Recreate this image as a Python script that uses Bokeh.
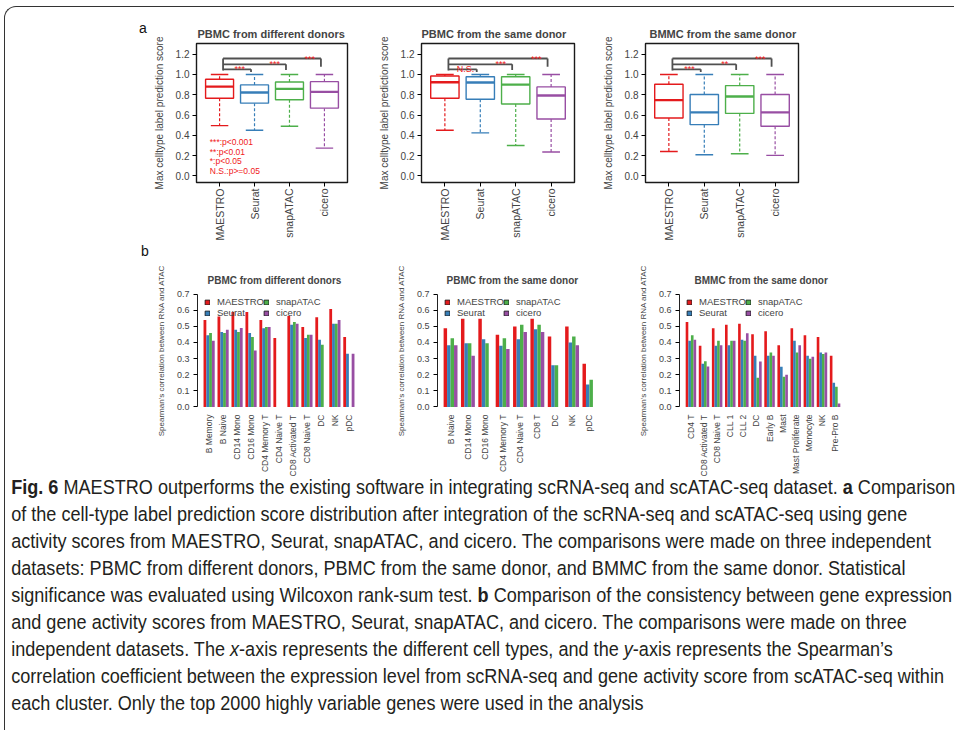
import math
from bokeh.plotting import figure
from bokeh.models import (ColumnDataSource, FixedTicker, Legend, LegendItem,
                          Div, Range1d, NumeralTickFormatter)
from bokeh.layouts import row, column
from bokeh.embed import file_html
from bokeh.resources import INLINE
from bokeh.core.properties import value

NAN = float("nan")
FONT = "Liberation Sans"

METHODS = ["MAESTRO", "Seurat", "snapATAC", "cicero"]
COLORS = ["#E41A1C", "#377EB8", "#4DAF4A", "#984EA3"]

# ---------------- panel a : box plots (five-number summaries) ----------------
BOX_TITLES = ["PBMC from different donors", "PBMC from the same donor", "BMMC from the same donor"]
BOX_YTICKS = [0.0, 0.2, 0.4, 0.6, 0.8, 1.0, 1.2]

pbmc_diff_low = [0.496, 0.450, 0.489, 0.274]
pbmc_diff_q1 = [0.766, 0.717, 0.750, 0.668]
pbmc_diff_med = [0.880, 0.822, 0.858, 0.828]
pbmc_diff_q3 = [0.952, 0.897, 0.926, 0.929]
pbmc_diff_high = [1.0, 1.0, 1.0, 1.0]

pbmc_same_low = [0.450, 0.424, 0.300, 0.235]
pbmc_same_q1 = [0.766, 0.756, 0.708, 0.561]
pbmc_same_med = [0.923, 0.920, 0.900, 0.792]
pbmc_same_q3 = [0.985, 0.978, 0.978, 0.877]
pbmc_same_high = [1.0, 1.0, 1.0, 1.0]

bmmc_low = [0.241, 0.209, 0.218, 0.202]
bmmc_q1 = [0.571, 0.505, 0.616, 0.489]
bmmc_med = [0.747, 0.626, 0.783, 0.626]
bmmc_q3 = [0.903, 0.802, 0.890, 0.802]
bmmc_high = [1.0, 1.0, 1.0, 1.0]

# significance of MAESTRO vs Seurat / snapATAC / cicero
sig_pbmc_diff = ["***", "***", "***"]
sig_pbmc_same = ["N.S.", "***", "***"]
sig_bmmc = ["***", "**", "***"]
PVAL_LEGEND = ["***:p<0.001", "**:p<0.01", "*:p<0.05", "N.S.:p>=0.05"]

# ---------------- panel b : bar charts ----------------
BAR_TITLES = ["PBMC from different donors", "PBMC from the same donor", "BMMC from the same donor"]
BAR_YTICKS = [0.0, 0.1, 0.2, 0.3, 0.4, 0.5, 0.6, 0.7]

pbmc_diff_cells = ["B Memory", "B Naive", "CD14 Mono", "CD16 Mono", "CD4 Memory T", "CD4 Naive T",
                   "CD8 Activated T", "CD8 Naive T", "DC", "NK", "pDC"]
pbmc_diff_maestro = [0.539, 0.560, 0.589, 0.589, 0.539, 0.428, 0.564, 0.496, 0.556, 0.607, 0.434]
pbmc_diff_seurat = [0.445, 0.465, 0.478, 0.459, 0.488, NAN, 0.509, 0.428, 0.416, 0.515, 0.330]
pbmc_diff_snap = [0.459, 0.459, 0.465, 0.434, 0.496, NAN, 0.527, 0.447, 0.385, 0.515, NAN]
pbmc_diff_cicero = [0.410, 0.478, 0.490, 0.350, 0.496, NAN, 0.515, 0.447, NAN, 0.539, 0.330]

pbmc_same_cells = ["B Naive", "CD14 Mono", "CD16 Mono", "CD4 Memory T", "CD4 Naive T", "CD8 T",
                   "DC", "NK", "pDC"]
pbmc_same_maestro = [0.488, 0.546, 0.546, 0.447, 0.498, 0.546, 0.436, 0.498, 0.268]
pbmc_same_seurat = [0.383, 0.395, 0.420, 0.379, 0.420, 0.482, 0.259, 0.400, 0.140]
pbmc_same_snap = [0.426, 0.395, 0.395, 0.426, 0.509, 0.509, 0.259, 0.436, 0.169]
pbmc_same_cicero = [0.383, 0.317, NAN, 0.360, 0.465, 0.465, NAN, 0.383, NAN]

bmmc_cells = ["CD4 T", "CD8 Activated T", "CD8 Naive T", "CLL 1", "CLL 2", "DC", "Early B", "Mast",
              "Mast Proliferate", "Monocyte", "NK", "Pre-Pro B"]
bmmc_maestro = [0.527, 0.379, 0.488, 0.509, 0.515, 0.451, 0.469, 0.383, 0.488, 0.445, 0.434, 0.317]
bmmc_seurat = [0.410, 0.268, 0.379, 0.383, 0.416, 0.317, 0.317, 0.249, 0.410, 0.317, 0.338, 0.150]
bmmc_snap = [0.445, 0.284, 0.410, 0.410, 0.410, 0.181, 0.338, 0.187, 0.338, 0.299, 0.329, 0.126]
bmmc_cicero = [0.416, 0.251, 0.383, 0.410, 0.457, 0.282, 0.317, 0.200, 0.383, 0.311, 0.338, 0.021]

CAPTION_LINES = [
    "<b>Fig. 6</b> MAESTRO outperforms the existing software in integrating scRNA-seq and scATAC-seq dataset. <b>a</b> Comparison",
    "of the cell-type label prediction score distribution after integration of the scRNA-seq and scATAC-seq using gene",
    "activity scores from MAESTRO, Seurat, snapATAC, and cicero. The comparisons were made on three independent",
    "datasets: PBMC from different donors, PBMC from the same donor, and BMMC from the same donor. Statistical",
    "significance was evaluated using Wilcoxon rank-sum test. <b>b</b> Comparison of the consistency between gene expression",
    "and gene activity scores from MAESTRO, Seurat, snapATAC, and cicero. The comparisons were made on three",
    "independent datasets. The <i>x</i>-axis represents the different cell types, and the <i>y</i>-axis represents the Spearman\u2019s",
    "correlation coefficient between the expression level from scRNA-seq and gene activity score from scATAC-seq within",
    "each cluster. Only the top 2000 highly variable genes were used in the analysis",
]


def style_title(p, title, size, offset):
    p.title.text = title
    p.title.text_font = FONT
    p.title.text_font_size = size
    p.title.text_font_style = "bold"
    p.title.align = "left"
    p.title.standoff = 7
    p.title.offset = offset


def make_box(title, low, q1, med, q3, high, sigs, width, left, right, title_offset, pval=False):
    p = figure(width=width, height=236, x_range=Range1d(0.34, 4.66), y_range=Range1d(-0.065, 1.305),
               output_backend="svg", toolbar_location=None,
               min_border_left=left, min_border_right=right, min_border_top=36, min_border_bottom=60)
    p.grid.visible = False
    p.outline_line_color = "#1a1a1a"
    p.outline_line_width = 1.4
    xs = [i + 1 for i in range(len(METHODS))]
    src = ColumnDataSource(dict(
        x=xs, low=low, q1=q1, med=med, q3=q3, high=high, color=COLORS,
        bl=[x - 0.4 for x in xs], br=[x + 0.4 for x in xs],
        sl=[x - 0.25 for x in xs], sr=[x + 0.25 for x in xs]))
    p.segment(x0="x", y0="q3", x1="x", y1="high", source=src, line_color="color",
              line_dash="3 2", line_width=1.2)
    p.segment(x0="x", y0="q1", x1="x", y1="low", source=src, line_color="color",
              line_dash="3 2", line_width=1.2)
    p.segment(x0="sl", y0="high", x1="sr", y1="high", source=src, line_color="color", line_width=1.4)
    p.segment(x0="sl", y0="low", x1="sr", y1="low", source=src, line_color="color", line_width=1.4)
    p.quad(left="bl", right="br", bottom="q1", top="q3", source=src, fill_color="white",
           line_color="color", line_width=1.4)
    p.segment(x0="bl", y0="med", x1="br", y1="med", source=src, line_color="color", line_width=2.4)

    # significance brackets (MAESTRO vs the others)
    targets = xs[1:]
    levels = [1.05, 1.10, 1.157]
    drops = [0.025, 0.055, 0.08]
    start = xs[0] + 0.1
    ends = [t - 0.1 for t in targets]
    bsrc = ColumnDataSource(dict(x0=[start] * 3, x1=ends, y=levels,
                                 yd=[l - d for l, d in zip(levels, drops)],
                                 tx=[t - 0.42 for t in targets], sig=sigs))
    bc = "#505050"
    p.segment(x0="x0", y0="y", x1="x1", y1="y", source=bsrc, line_color=bc, line_width=1.8)
    p.segment(x0="x1", y0="y", x1="x1", y1="yd", source=bsrc, line_color=bc, line_width=1.8)
    p.segment(x0=[start], y0=[max(levels)], x1=[start], y1=[1.04], line_color=bc, line_width=1.8)
    p.text(x="tx", y="y", text="sig", source=bsrc, text_color="#F02020", text_align="center",
           text_baseline="middle", text_font_size="9px", text_font=value(FONT))

    if pval:
        ys = [0.33 - 0.093 * i for i in range(len(PVAL_LEGEND))]
        p.text(x=[0.72] * len(PVAL_LEGEND), y=ys, text=PVAL_LEGEND, text_color="#F02020",
               text_align="left", text_baseline="middle", text_font_size="8.5px",
               text_font=value(FONT))

    style_title(p, title, "11px", title_offset)

    p.yaxis.ticker = FixedTicker(ticks=BOX_YTICKS)
    p.yaxis.formatter = NumeralTickFormatter(format="0.0")
    p.yaxis.axis_label = "Max celltype label prediction score"
    p.yaxis.axis_label_text_font = FONT
    p.yaxis.axis_label_text_font_size = "10px"
    p.yaxis.axis_label_text_font_style = "normal"
    p.yaxis.axis_label_standoff = 8
    p.yaxis.major_label_text_font = FONT
    p.yaxis.major_label_text_font_size = "10px"
    p.yaxis.major_tick_out = 4
    p.yaxis.major_tick_in = 0
    p.yaxis.minor_tick_line_color = None
    p.yaxis.major_label_standoff = 3
    p.yaxis.axis_line_color = None

    p.xaxis.ticker = FixedTicker(ticks=xs)
    p.xaxis.major_label_overrides = {x: m for x, m in zip(xs, METHODS)}
    p.xaxis.major_label_orientation = math.pi / 2
    p.xaxis.major_label_text_font = FONT
    p.xaxis.major_label_text_font_size = "10.5px"
    p.xaxis.major_tick_out = 4
    p.xaxis.major_tick_in = 0
    p.xaxis.minor_tick_line_color = None
    p.xaxis.major_label_standoff = 2
    p.xaxis.axis_line_color = None
    return p


def make_bar(title, cells, series, width, left, right, title_offset):
    n = len(cells)
    xmax = 5 * n
    span = xmax - 1
    p = figure(width=width, height=236, x_range=Range1d(1 - 0.04 * span, xmax + 0.04 * span),
               y_range=Range1d(-0.028, 0.728), output_backend="svg", toolbar_location=None,
               min_border_left=left, min_border_right=right, min_border_top=46, min_border_bottom=68)
    p.grid.visible = False
    p.outline_line_color = None
    for j, vals in enumerate(series):
        xs = [1 + 5 * g + j + 0.5 for g in range(n)]
        p.vbar(x=xs, top=vals, bottom=0, width=1, fill_color=COLORS[j], line_color=None)

    # legend keys (outlined squares, no data drawn)
    proxies = [p.vbar(x=[NAN], top=[NAN], bottom=[0], width=1, fill_color=c, line_color="#111111",
                      line_width=0.8) for c in COLORS]
    for cols, vx in (((0, 1), 7), ((2, 3), 66)):
        leg = Legend(items=[LegendItem(label=METHODS[k], renderers=[proxies[k]], index=0) for k in cols],
                     location=(vx, 93), orientation="vertical", padding=0, margin=0, spacing=-1,
                     glyph_width=6, glyph_height=6, label_standoff=7, label_height=9,
                     label_text_font=FONT, label_text_font_size="9.5px",
                     background_fill_alpha=0, border_line_color=None)
        p.add_layout(leg)

    style_title(p, title, "10px", title_offset)

    p.yaxis.ticker = FixedTicker(ticks=BAR_YTICKS)
    p.yaxis.formatter = NumeralTickFormatter(format="0.0")
    p.yaxis.bounds = (BAR_YTICKS[0], BAR_YTICKS[-1])
    p.yaxis.axis_label = "Spearman's correlation between RNA and ATAC"
    p.yaxis.axis_label_text_font = FONT
    p.yaxis.axis_label_text_font_size = "8px"
    p.yaxis.axis_label_text_font_style = "normal"
    p.yaxis.axis_label_standoff = 8
    p.yaxis.major_label_text_font = FONT
    p.yaxis.major_label_text_font_size = "9px"
    p.yaxis.major_tick_out = 4
    p.yaxis.major_tick_in = 0
    p.yaxis.minor_tick_line_color = None
    p.yaxis.major_label_standoff = 4
    p.yaxis.axis_line_color = "#222222"

    centers = [3 + 5 * g for g in range(n)]
    p.xaxis.ticker = FixedTicker(ticks=centers)
    p.xaxis.major_label_overrides = {c: name for c, name in zip(centers, cells)}
    p.xaxis.major_label_orientation = math.pi / 2
    p.xaxis.major_label_text_font = FONT
    p.xaxis.major_label_text_font_size = "8.5px"
    p.xaxis.major_tick_out = 0
    p.xaxis.major_tick_in = 0
    p.xaxis.major_tick_line_color = None
    p.xaxis.minor_tick_line_color = None
    p.xaxis.axis_line_color = None
    p.xaxis.major_label_standoff = 3
    return p


def tag_div(letter, width, height, pad_left, pad_top):
    html = (f"<div style=\"font-family:'{FONT}',sans-serif;font-size:14px;line-height:14px;"
            f"padding-left:{pad_left}px;padding-top:{pad_top}px;color:#111;\">{letter}</div>")
    return Div(text=html, width=width, height=height, margin=0)


a_tag = tag_div("a", 144, 236, 134, 14)
a1 = make_box(BOX_TITLES[0], pbmc_diff_low, pbmc_diff_q1, pbmc_diff_med, pbmc_diff_q3, pbmc_diff_high,
              sig_pbmc_diff, 222, 47, 24, 1, pval=True)
a2 = make_box(BOX_TITLES[1], pbmc_same_low, pbmc_same_q1, pbmc_same_med, pbmc_same_q3, pbmc_same_high,
              sig_pbmc_same, 226, 50, 23, 0)
a3 = make_box(BOX_TITLES[2], bmmc_low, bmmc_q1, bmmc_med, bmmc_q3, bmmc_high,
              sig_bmmc, 357, 48, 156, 4)

b_tag = tag_div("b", 148, 236, 136, 1)
b1 = make_bar(BAR_TITLES[0], pbmc_diff_cells,
              [pbmc_diff_maestro, pbmc_diff_seurat, pbmc_diff_snap, pbmc_diff_cicero],
              237, 40, 30, 10)
b2 = make_bar(BAR_TITLES[1], pbmc_same_cells,
              [pbmc_same_maestro, pbmc_same_seurat, pbmc_same_snap, pbmc_same_cicero],
              242, 47, 30, 9)
b3 = make_bar(BAR_TITLES[2], bmmc_cells,
              [bmmc_maestro, bmmc_seurat, bmmc_snap, bmmc_cicero],
              322, 47, 108, 15)

# --- caption: Liberation Sans horizontally condensed to the width of the original first line ---
HELV = {" ": 278, ".": 278, ",": 278, "-": 333, ":": 278, "\u2019": 222, "'": 191, "0": 556, "1": 556,
        "2": 556, "3": 556, "4": 556, "5": 556, "6": 556, "7": 556, "8": 556, "9": 556}
HELV.update(dict(zip("ABCDEFGHIJKLMNOPQRSTUVWXYZ",
                     [667, 667, 722, 722, 667, 611, 778, 722, 278, 500, 667, 556, 833, 722, 778, 667,
                      778, 722, 667, 611, 722, 667, 944, 667, 667, 611])))
HELV.update(dict(zip("abcdefghijklmnopqrstuvwxyz",
                     [556, 556, 500, 556, 556, 278, 556, 556, 222, 222, 500, 222, 833, 556, 556, 556,
                      556, 333, 500, 278, 556, 500, 722, 500, 500, 500])))
CAP_FONT_PX = 20.5
plain1 = CAPTION_LINES[0].replace("<b>", "").replace("</b>", "")
em1 = sum(HELV.get(ch, 556) for ch in plain1) / 1000.0 + 0.4
scale = 952.0 / (em1 * CAP_FONT_PX)
cap_html = ("<div style=\"font-family:'Liberation Sans',sans-serif;"
            f"font-size:{CAP_FONT_PX}px;line-height:27px;white-space:nowrap;color:#231f20;"
            f"margin-top:-6px;padding-left:7px;transform:scaleX({scale:.4f});transform-origin:0 0;\">"
            + "<br>".join(CAPTION_LINES) + "</div>")
caption = Div(text=cap_html, width=949, height=251, margin=0)

layout = column(row(a_tag, a1, a2, a3), row(b_tag, b1, b2, b3), caption,
                styles={"border-top": "1.5px solid #333333", "border-left": "1.5px solid #333333",
                        "border-top-left-radius": "12px", "margin-left": "4px", "margin-top": "6px"})

open("out.html", "w").write(file_html(layout, INLINE))
